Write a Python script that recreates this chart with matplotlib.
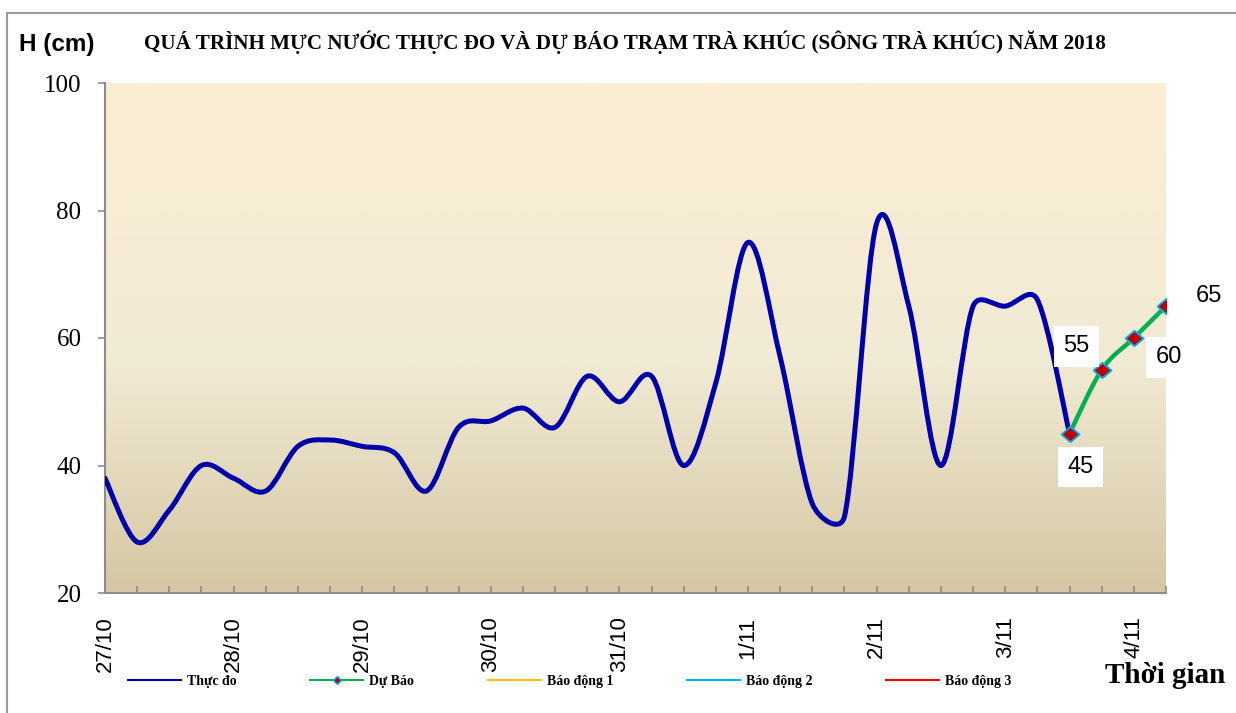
import numpy as np
import matplotlib
matplotlib.use('Agg')
from matplotlib import pyplot as plt
from matplotlib.path import Path
from matplotlib.patches import PathPatch
from matplotlib.lines import Line2D

# observed water level (cm), one value every 6 hours from 27/10 00h
h_obs = [38, 28, 33, 40, 38, 36, 43, 44, 43, 42, 36, 46, 47, 49, 46, 54, 50,
         54, 40, 53, 75, 57, 34, 32, 78, 65, 40, 65, 65, 66, 45]
# forecast starts at the last observed point
h_fc = [45, 55, 60, 65]
x_obs = np.arange(len(h_obs))
x_fc = np.arange(len(h_obs) - 1, len(h_obs) - 1 + len(h_fc))

day_labels = ['27/10', '28/10', '29/10', '30/10', '31/10', '1/11', '2/11', '3/11', '4/11']
legend_names = ['Thực đo', 'Dự Báo', 'Báo động 1', 'Báo động 2', 'Báo động 3']

SERIF = 'Liberation Serif'
SANS = 'Liberation Sans'

W, H = 1236, 713
AX_W, AX_H = 1061, 510
xmax = x_fc[-1]
sx, sy = AX_W / xmax, AX_H / 80.0   # px per data unit, for the smoothing


def smooth_path(x, y, cap=0.5):
    '''excel-like smoothed line: catmull-rom bezier, handles capped by segment length'''
    p = np.column_stack([np.asarray(x) * sx, np.asarray(y) * sy]).astype(float)
    n = len(p)
    verts = [p[0]]
    codes = [Path.MOVETO]
    for i in range(n - 1):
        p0 = p[i - 1] if i > 0 else p[i]
        p1, p2 = p[i], p[i + 1]
        p3 = p[i + 2] if i + 2 < n else p[i + 1]
        d = np.hypot(*(p2 - p1))
        v1 = (p2 - p0) / 6
        v2 = (p3 - p1) / 6
        for v in (v1, v2):
            L = np.hypot(*v)
            if L > cap * d:
                v *= cap * d / L
        verts += [p1 + v1, p2 - v2, p2]
        codes += [Path.CURVE4] * 3
    verts = np.array(verts) / [sx, sy]
    return Path(verts, codes)


fig = plt.figure(figsize=(W / 100, H / 100), dpi=100)
ax = fig.add_axes([105 / W, 1 - 593 / H, AX_W / W, AX_H / H])
ax.set_xlim(0, xmax)
ax.set_ylim(20, 100)

# parchment gradient background
stops = np.array([[252, 238, 212], [241, 234, 212], [213, 199, 163]]) / 255
t = np.linspace(0, 1, 256)
grad = np.stack([np.interp(t, [0, 0.55, 1], stops[:, k]) for k in range(3)], axis=1)
ax.imshow(grad[:, None, :], extent=[0, xmax, 20, 100], aspect='auto',
          interpolation='bilinear', zorder=0)

ax.add_patch(PathPatch(smooth_path(x_obs, h_obs), facecolor='none',
                       edgecolor='#0000AA', lw=3.6, capstyle='round',
                       joinstyle='round', zorder=3))
ax.add_patch(PathPatch(smooth_path(x_fc, h_fc), facecolor='none',
                       edgecolor='#00B050', lw=3.2, capstyle='round', zorder=4))
diamond = [(-1, 0), (0, 0.85), (1, 0), (0, -0.85), (-1, 0)]
ax.plot(x_fc, h_fc, ls='none', marker=diamond, ms=13, mfc='#C00000',
        mec='#00B0F0', mew=1.3, zorder=5)

# data labels
offsets = [(8, -24), (-18, 17), (25, -14), (31, 7)]
for xi, yi, off in zip(x_fc, h_fc, offsets):
    ax.annotate(str(yi), (xi, yi), xytext=off, textcoords='offset points',
                ha='center', va='center', fontsize=17, family=SANS,
                bbox=dict(boxstyle='square,pad=0.4', fc='white', ec='none'),
                zorder=6, annotation_clip=False)

for s in ['top', 'right']:
    ax.spines[s].set_visible(False)
for s in ['left', 'bottom']:
    ax.spines[s].set_color('#8c8c8c')
    ax.spines[s].set_linewidth(1.5)

ax.set_yticks(range(20, 101, 20))
ax.tick_params(axis='y', direction='out', length=5, width=1.2, color='#8c8c8c',
               pad=12, labelsize=18)
for lab in ax.get_yticklabels():
    lab.set_family(SERIF)

ax.set_xticks(range(0, xmax + 1), minor=True)
ax.set_xticks(range(0, 4 * len(day_labels), 4))
ax.set_xticklabels(day_labels, rotation=90, family=SANS, fontsize=16)
ax.tick_params(axis='x', which='both', direction='in', length=5, width=1.2,
               color='#8c8c8c', pad=17)

fig.text(57 / W, 1 - 45 / H, 'H (cm)', family=SANS, weight='bold', fontsize=17.5,
         ha='center', va='center')
fig.text(625 / W, 1 - 42 / H,
         'QUÁ TRÌNH MỰC NƯỚC THỰC ĐO VÀ DỰ BÁO TRẠM TRÀ KHÚC (SÔNG TRÀ KHÚC) NĂM 2018',
         family=SERIF, weight='bold', fontsize=15.2, ha='center', va='center')
fig.text(1225 / W, 1 - 683 / H, 'Thời gian', family=SERIF, weight='bold',
         fontsize=21, ha='right', va='baseline')

# legend
handles = [Line2D([], [], color='#0000AA', lw=1.5),
           Line2D([], [], color='#00B050', lw=1.5, marker='D', ms=4,
                  mfc='#C00000', mec='#00B0F0', mew=1),
           Line2D([], [], color='#FFC000', lw=1.5),
           Line2D([], [], color='#00B0F0', lw=1.5),
           Line2D([], [], color='#FF0000', lw=1.5)]
fig.legend(handles, legend_names, loc='center left', ncol=5, frameon=False,
           bbox_to_anchor=(128 / W, 1 - 681 / H), borderpad=0, borderaxespad=0,
           handlelength=3.8, handletextpad=0.45, columnspacing=5.3,
           prop=dict(family=SERIF, weight='bold', size=10))

# chart border
fig.add_artist(Line2D([7 / W, 7 / W], [0, 1 - 13 / H], transform=fig.transFigure,
                      color='#9a9a9a', lw=1.5))
fig.add_artist(Line2D([7 / W, 1], [1 - 13 / H, 1 - 13 / H], transform=fig.transFigure,
                      color='#9a9a9a', lw=1.5))

fig.savefig('out.png', dpi=100)
